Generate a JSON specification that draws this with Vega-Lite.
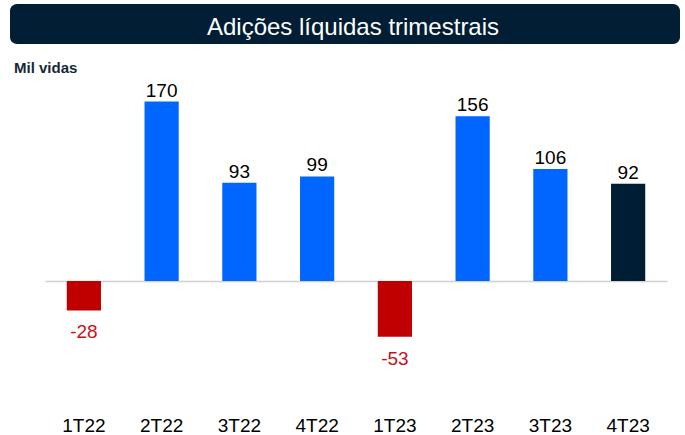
{
  "$schema": "https://vega.github.io/schema/vega-lite/v6.json",
  "autosize": {"type": "pad"},
  "padding": {"left": 10, "top": 4, "right": 5, "bottom": 0},
  "background": "white",
  "config": {
    "font": "Liberation Sans",
    "view": {"stroke": null},
    "concat": {"spacing": 16},
    "locale": {
      "number": {
        "decimal": ",",
        "thousands": ".",
        "grouping": [3],
        "currency": ["R$", ""],
        "minus": "-"
      }
    }
  },
  "center": false,
  "vconcat": [
    {
      "width": 670,
      "height": 40,
      "view": {"fill": "#011e34", "cornerRadius": 7, "stroke": null},
      "data": {"values": [{"titulo": "Adições líquidas trimestrais"}]},
      "mark": {"type": "text", "fontSize": 24, "color": "white", "dy": 4, "dx": 8},
      "encoding": {"text": {"field": "titulo", "type": "nominal"}}
    },
    {
      "title": {
        "text": "Mil vidas",
        "anchor": "start",
        "frame": "bounds",
        "fontSize": 15,
        "fontWeight": "bold",
        "color": "#15283a",
        "offset": 6,
        "dx": 4
      },
      "spacing": 0,
      "hconcat": [
        {
          "width": 35,
          "height": 306,
          "data": {"values": []},
          "mark": {"type": "text"},
          "encoding": {}
        },
        {
          "width": 622,
          "height": 306,
          "data": {
            "values": [
              {"trimestre": "1T22", "valor": -28},
              {"trimestre": "2T22", "valor": 170},
              {"trimestre": "3T22", "valor": 93},
              {"trimestre": "4T22", "valor": 99},
              {"trimestre": "1T23", "valor": -53},
              {"trimestre": "2T23", "valor": 156},
              {"trimestre": "3T23", "valor": 106},
              {"trimestre": "4T23", "valor": 92}
            ]
          },
          "encoding": {
            "x": {
              "field": "trimestre",
              "type": "nominal",
              "sort": null,
              "scale": {"paddingInner": 0.56, "paddingOuter": 0.28},
              "axis": {
                "title": null,
                "labelAngle": 0,
                "domain": false,
                "ticks": false,
                "tickSize": 0,
                "labelPadding": 19,
                "labelFontSize": 19,
                "labelColor": "#000000"
              }
            },
            "y": {
              "field": "valor",
              "type": "quantitative",
              "scale": {"domain": [-110, 180], "nice": false, "zero": true},
              "axis": {
                "title": null,
                "labels": false,
                "ticks": false,
                "domain": false,
                "grid": true,
                "values": [0],
                "gridColor": "#d0d0d0",
                "gridWidth": 1.5,
                "minExtent": 0,
                "maxExtent": 0
              }
            }
          },
          "layer": [
            {
              "mark": {"type": "bar"},
              "encoding": {
                "color": {
                  "condition": [
                    {"test": "datum.valor < 0", "value": "#c00000"},
                    {"test": "datum.trimestre === '4T23'", "value": "#001e33"}
                  ],
                  "value": "#0066ff"
                }
              }
            },
            {
              "transform": [{"filter": "datum.valor >= 0"}],
              "mark": {"type": "text", "baseline": "alphabetic", "dy": -5, "fontSize": 19, "color": "#000000"},
              "encoding": {"text": {"field": "valor", "type": "quantitative"}}
            },
            {
              "transform": [{"filter": "datum.valor < 0"}],
              "mark": {"type": "text", "baseline": "top", "dy": 13, "fontSize": 19, "color": "#c8101a"},
              "encoding": {"text": {"field": "valor", "type": "quantitative"}}
            }
          ]
        }
      ]
    }
  ]
}
